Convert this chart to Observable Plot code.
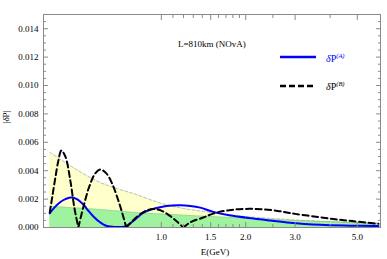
<!DOCTYPE html>
<html><head><meta charset="utf-8">
<script src="https://cdn.jsdelivr.net/npm/d3@7"></script>
<script src="https://cdn.jsdelivr.net/npm/@observablehq/plot@0.6"></script>
<style>
body{margin:0;background:#fff;}
#wrap{position:relative;width:387px;height:259px;font-family:"Liberation Serif","Times New Roman",serif;color:#000;}
#wrap svg{display:block;}
.ov{position:absolute;line-height:1;white-space:nowrap;font-size:9px;}
sup{font-style:italic;font-size:6.5px;vertical-align:4px;line-height:0;}
</style></head><body><div id="wrap"></div>
<script>
// δP^(A) (solid blue)
const energyA = [0.40,0.4155,0.4354,0.4547,0.4737,0.4977,0.527,0.5493,0.5725,0.6045,0.6316,0.669,0.714,0.75,0.7753,0.821,0.8556,0.914,1.0,1.094,1.169,1.269,1.377,1.532,1.748,2.13,2.446,2.81,3.69,4.72,5.95];
const dPA = [0.00100,0.00140,0.00178,0.00200,0.00211,0.00202,0.00162,0.00118,0.00078,0.00037,0.00014,0.00005,0.00004,0.00010,0.00030,0.00070,0.00100,0.00125,0.00145,0.00155,0.00157,0.00152,0.00140,0.00110,0.00086,0.00063,0.00049,0.00036,0.00019,0.00013,0.00010];
// δP^(B) (dashed black)
const energyB = [0.40,0.4087,0.4188,0.4293,0.440,0.4547,0.4737,0.4895,0.5059,0.527,0.5537,0.5816,0.606,0.6366,0.6688,0.7026,0.726,0.7502,0.7753,0.821,0.8556,0.8914,0.9364,1.0,1.0767,1.14,1.198,1.279,1.412,1.532,1.748,2.0,2.3,2.6,2.8,3.0,3.5,4.1,4.8,5.95];
const dPB = [0.00105,0.0022,0.0035,0.0047,0.00542,0.0050,0.0033,0.0014,0,0.00143,0.00289,0.00382,0.00408,0.00381,0.00306,0.0019,0.0010,0,0.0003,0.00078,0.00104,0.00122,0.0013,0.00119,0.0008,0.0004,0,0.0004,0.0007,0.00098,0.00122,0.00131,0.00128,0.00117,0.00106,0.00096,0.00078,0.0006,0.00045,0.00026];
// shaded bands
const energyBand = [0.40,0.45,0.50,0.60,0.70,0.80,1.0,1.2,1.5,2.0,2.5,3.0,4.0,5.0,5.95];
const bandUpper = [0.0053,0.00463,0.00406,0.0032,0.00272,0.00237,0.0017,0.00134,0.00106,0.00077,0.00063,0.00053,0.00041,0.00034,0.0003];
const bandLower = [0.0015,0.00143,0.00137,0.00127,0.00116,0.00106,0.00095,0.00087,0.00077,0.00066,0.00056,0.00049,0.0004,0.00033,0.00029];
// ticks
const yTicks = [0,0.002,0.004,0.006,0.008,0.010,0.012,0.014];
const yMinor = [0.0005,0.001,0.0015,0.0025,0.003,0.0035,0.0045,0.005,0.0055,0.0065,0.007,0.0075,0.0085,0.009,0.0095,0.0105,0.011,0.0115,0.0125,0.013,0.0135,0.0145];
const xTicks = [1.0,1.5,2.0,3.0,5.0];
const xMinor = [1.1,1.2,1.3,1.4,1.6,1.7,1.8,1.9,2.5,4.0];

const rowsA = energyA.map((e,i)=>({e, v:dPA[i]}));
// split B into lobes at its zeros so the |δP| cusps stay sharp
const rowsB = [];
let lobe = 0;
energyB.forEach((e,i)=>{
  rowsB.push({e, v:dPB[i], lobe});
  if (dPB[i] === 0 && i>0) { lobe++; rowsB.push({e, v:0, lobe}); }
});
const band = energyBand.map((e,i)=>({e, hi:bandUpper[i], lo:bandLower[i]}));

const grey = "#8a8a8a";
const chart = Plot.plot({
  width:387, height:259,
  marginLeft:43, marginRight:7, marginTop:14, marginBottom:32,
  style:{fontFamily:"'Liberation Serif', 'Times New Roman', serif", fontSize:"9px", color:"#000", background:"#fff", overflow:"visible"},
  x:{type:"log", domain:[0.38,6.05]},
  y:{domain:[0,0.015]},
  marks:[
    Plot.areaY(band,{x:"e", y:"hi", fill:"#ffffcc", curve:"catmull-rom"}),
    Plot.areaY(band,{x:"e", y:"lo", fill:"#9ff39f", curve:"catmull-rom"}),
    Plot.line(band,{x:"e", y:"hi", stroke:"#a8a8a8", strokeWidth:0.8, strokeDasharray:"3,2", curve:"catmull-rom"}),
    Plot.line(band,{x:"e", y:"lo", stroke:"#90b090", strokeWidth:0.6, strokeOpacity:0.6, curve:"catmull-rom"}),
    Plot.line(rowsA,{x:"e", y:"v", stroke:"#0000ff", strokeWidth:2, curve:"catmull-rom", clip:true}),
    Plot.line(rowsB,{x:"e", y:"v", z:"lobe", stroke:"#000", strokeWidth:2, strokeDasharray:"6,3.5", curve:"catmull-rom", clip:true}),
    Plot.axisY({anchor:"left", ticks:yTicks, tickSize:-5, tickPadding:10, tickFormat:d3.format(".3f"), label:null, stroke:grey, fill:"#000"}),
    Plot.axisY({anchor:"left", ticks:yMinor, tickSize:-3, fill:"none", label:null, stroke:grey}),
    Plot.axisY({anchor:"right", ticks:yTicks, tickSize:-5, fill:"none", label:null, stroke:grey}),
    Plot.axisY({anchor:"right", ticks:yMinor, tickSize:-3, fill:"none", label:null, stroke:grey}),
    Plot.axisX({anchor:"bottom", ticks:xTicks, tickSize:-5, tickPadding:11, tickFormat:d3.format(".1f"), label:null, stroke:grey, fill:"#000"}),
    Plot.axisX({anchor:"bottom", ticks:xMinor, tickSize:-3, fill:"none", label:null, stroke:grey}),
    Plot.axisX({anchor:"top", ticks:xTicks, tickSize:-5, fill:"none", label:null, stroke:grey}),
    Plot.axisX({anchor:"top", ticks:xMinor, tickSize:-3, fill:"none", label:null, stroke:grey}),
    Plot.frame({stroke:grey})
  ]
});
const wrap = document.getElementById("wrap");
wrap.appendChild(chart);

function ov(html, css){ const d=document.createElement("div"); d.className="ov"; d.innerHTML=html; d.style.cssText+=css; wrap.appendChild(d); return d; }
ov("|<i>δ</i>P|", "left:6px;top:117px;transform:translate(-50%,-50%) rotate(-90deg);");
ov("E(GeV)", "left:215px;top:252px;transform:translate(-50%,-50%);");
ov("L=810km (NOvA)", "left:178px;top:39.5px;");
ov("<i>δ</i>P<sup>(A)</sup>", "left:326px;top:54px;color:#0000ff;font-size:10px;");
ov("<i>δ</i>P<sup>(B)</sup>", "left:326px;top:82px;color:#000;font-size:10px;");
const sw = document.createElementNS("http://www.w3.org/2000/svg","svg");
sw.setAttribute("width","40"); sw.setAttribute("height","40");
sw.style.cssText="position:absolute;left:278px;top:50px;";
sw.innerHTML = '<line x1="2" x2="38" y1="7" y2="7" stroke="#0000ff" stroke-width="2.5"/>'+
               '<line x1="2" x2="35" y1="36" y2="36" stroke="#000" stroke-width="2.5" stroke-dasharray="6,3"/>';
wrap.appendChild(sw);
</script>
</body></html>
